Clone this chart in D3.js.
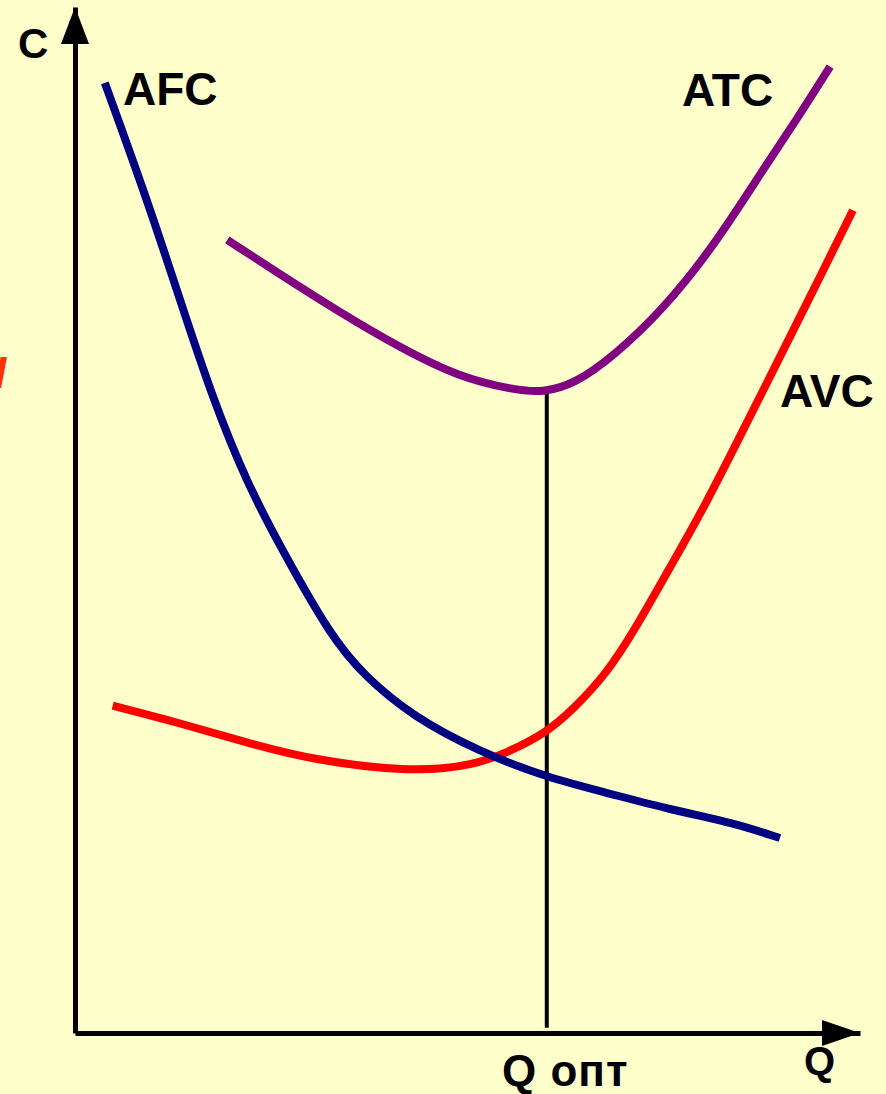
<!DOCTYPE html>
<html>
<head>
<meta charset="utf-8">
<script src="https://cdn.jsdelivr.net/npm/d3@7"></script>
<style>
  body { margin: 0; background: #ffffcc; }
  text { font-family: "Liberation Sans", Arial, sans-serif; font-weight: bold; }
</style>
</head>
<body>
<div id="chart"></div>
<script>
// curve readings, Q and C in chart units (0..100)
var afcQ = [3.8, 9.2, 13.4, 17.6, 21.9, 26.5, 32.5, 36.7, 43.1, 51.6, 60.1, 67.8, 76.2, 83.8, 89.8];
var afcC = [92.6, 81.2, 71.4, 61.7, 53.6, 46.9, 38.8, 34.9, 30.8, 27.4, 24.9, 23.4, 21.7, 20.5, 19.0];

var atcQ = [19.4, 25.2, 33.8, 41.4, 49.0, 55.8, 59.6, 63.7, 68.5, 74.9, 81.3, 87.6, 92.0, 96.2];
var atcC = [77.3, 74.4, 70.2, 66.8, 63.9, 62.7, 62.4, 63.3, 65.9, 70.5, 76.6, 84.1, 89.1, 94.2];

var avcQ = [4.8, 13.4, 21.9, 30.3, 43.1, 50.7, 55.0, 60.1, 63.4, 67.8, 71.3, 75.8, 80.0, 85.6, 89.8, 94.0, 99.1];
var avcC = [31.9, 30.2, 28.3, 26.6, 25.4, 26.1, 27.3, 29.3, 31.5, 35.1, 39.3, 45.4, 51.0, 59.5, 65.9, 72.3, 80.2];

var qOpt = 60.1;       // optimum output
var atcMin = 62.4;     // ATC at Q opt

var width = 886,
    height = 1094;

var svg = d3.select("#chart")
  .append("svg")
    .attr("width", width)
    .attr("height", height);

svg.append("rect")
  .attr("width", width)
  .attr("height", height)
  .attr("fill", "#ffffcc");

var x = d3.scaleLinear().domain([0, 100]).range([75, 860]);
var y = d3.scaleLinear().domain([0, 100]).range([1033, 7]);

// axes, no ticks - only the domain lines
svg.append("g")
  .attr("transform", "translate(0," + y(0) + ")")
  .call(d3.axisBottom(x).ticks(0).tickSizeOuter(0))
  .call(function (g) { g.select(".domain").attr("stroke", "#000").attr("stroke-width", 5); });

svg.append("g")
  .attr("transform", "translate(" + x(0) + ",0)")
  .call(d3.axisLeft(y).ticks(0).tickSizeOuter(0))
  .call(function (g) { g.select(".domain").attr("stroke", "#000").attr("stroke-width", 5); });

// arrow heads
svg.append("path")
  .attr("d", "M" + x(0) + "," + y(100) + "L" + (x(0) - 14) + "," + (y(100) + 37) + "L" + (x(0) + 14) + "," + (y(100) + 37) + "Z")
  .attr("fill", "#000");
svg.append("path")
  .attr("d", "M" + x(100) + "," + y(0) + "L" + (x(100) - 38) + "," + (y(0) - 13) + "L" + (x(100) - 38) + "," + (y(0) + 13) + "Z")
  .attr("fill", "#000");

// Q opt drop line
svg.append("line")
  .attr("x1", x(qOpt)).attr("x2", x(qOpt))
  .attr("y1", y(atcMin)).attr("y2", y(0.5))
  .attr("stroke", "#000")
  .attr("stroke-width", 4);

// b-spline smooths out the reading noise
var line = d3.line()
  .x(function (d) { return x(d[0]); })
  .y(function (d) { return y(d[1]); })
  .curve(d3.curveBasis);

var curves = [
  { name: "AVC", q: avcQ, c: avcC, color: "#ff0000" },
  { name: "AFC", q: afcQ, c: afcC, color: "#000080" },
  { name: "ATC", q: atcQ, c: atcC, color: "#800080" }
];

svg.selectAll("path.curve")
  .data(curves)
  .enter()
  .append("path")
    .attr("class", "curve")
    .attr("d", function (d) { return line(d3.zip(d.q, d.c)); })
    .attr("fill", "none")
    .attr("stroke", function (d) { return d.color; })
    .attr("stroke-width", 8);

// labels
svg.append("text").attr("x", 18).attr("y", 58).attr("font-size", 42).text("C");
svg.append("text").attr("x", 123).attr("y", 105).attr("font-size", 46).text("AFC");
svg.append("text").attr("x", 682).attr("y", 106).attr("font-size", 46).text("ATC");
svg.append("text").attr("x", 780).attr("y", 407).attr("font-size", 46).text("AVC");
svg.append("text").attr("x", 502).attr("y", 1086).attr("font-size", 44)
  .attr("letter-spacing", 1).text("Q опт");
svg.append("text").attr("x", 804).attr("y", 1075).attr("font-size", 40).text("Q");

// cut-off letter on the left edge
svg.append("text")
  .attr("x", -6).attr("y", 388)
  .attr("font-size", 44)
  .attr("font-style", "italic")
  .attr("fill", "#ff3300")
  .text("I");
</script>
</body>
</html>
